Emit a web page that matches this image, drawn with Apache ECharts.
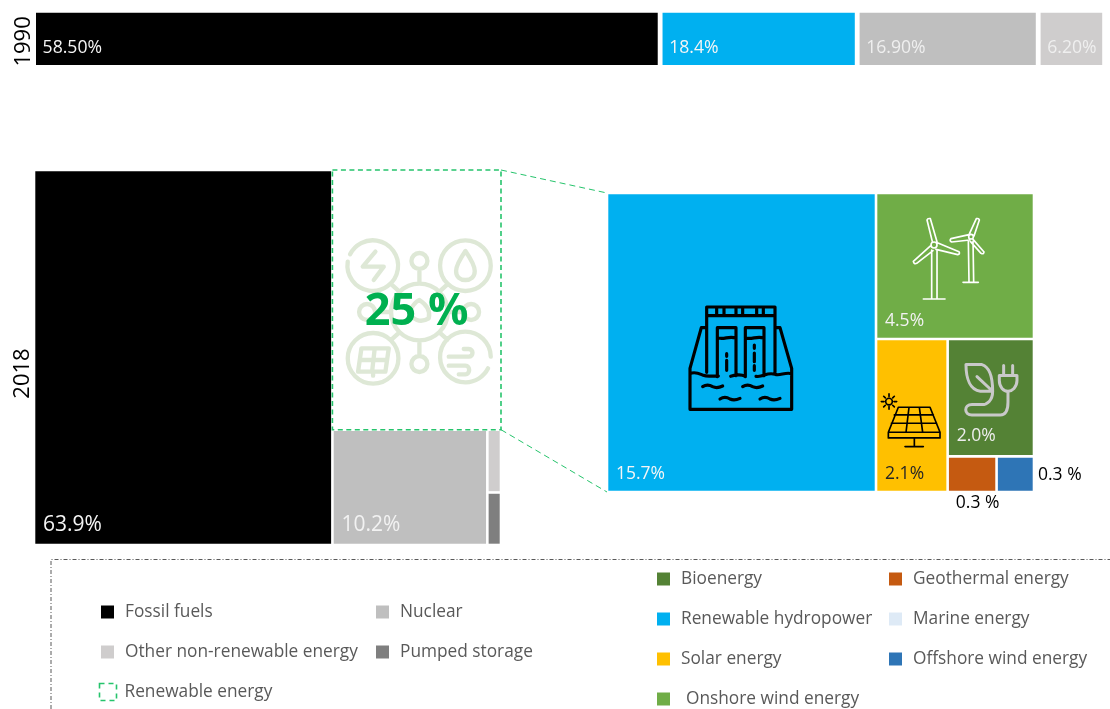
<!DOCTYPE html>
<html><head><meta charset="utf-8">
<style>html,body{margin:0;padding:0;background:#fff}#c{width:1110px;height:709px}</style>
<script src="https://cdn.jsdelivr.net/npm/echarts@6/dist/echarts.min.js"></script>
</head><body><div id="c"></div>
<script>
const years = ['1990', '2018'];
const names1990 = ['Fossil fuels', 'Renewable hydropower', 'Nuclear', 'Other non-renewable energy'];
const values1990 = [58.5, 18.4, 16.9, 6.2];
const labels1990 = ['58.50%', '18.4%', '16.90%', '6.20%'];

const names2018 = ['Fossil fuels', 'Renewable energy', 'Nuclear', 'Other non-renewable energy', 'Pumped storage'];
const values2018 = [63.9, 25, 10.2, 0.49, 0.41];
const labels2018 = ['63.9%', '25 %', '10.2%', '', ''];

const namesRenewable = ['Renewable hydropower', 'Onshore wind energy', 'Solar energy', 'Bioenergy', 'Geothermal energy', 'Offshore wind energy'];
const valuesRenewable = [15.7, 4.5, 2.14, 1.98, 0.34, 0.26];
const labelsRenewable = ['15.7%', '4.5%', '2.1%', '2.0%', '0.3 %', '0.3 %'];

const legendCol1 = ['Fossil fuels', 'Other non-renewable energy'];
const legendCol2 = ['Nuclear', 'Pumped storage'];
const legendCol3 = ['Bioenergy', 'Renewable hydropower', 'Solar energy'];
const legendCol4 = ['Geothermal energy', 'Marine energy', 'Offshore wind energy'];

const colors = {
  'Fossil fuels': '#000000', 'Renewable hydropower': '#00B0F0', 'Nuclear': '#BFBFBF',
  'Other non-renewable energy': '#CFCDCD', 'Pumped storage': '#7F7F7F', 'Renewable energy': '#FFFFFF',
  'Onshore wind energy': '#70AD47', 'Solar energy': '#FFC000', 'Bioenergy': '#548235',
  'Geothermal energy': '#C55A11', 'Offshore wind energy': '#2E75B6', 'Marine energy': '#DEEAF6'
};
const GREEN = '#26C46C';
const FONT = '"Open Sans", sans-serif';

// ---- slice-and-dice layout, in axis units, derived from the values only ----
function sum(a) { return a.reduce((s, v) => s + v, 0); }
function layoutMain() {
  const [f, r, n, o, p] = values2018;
  const rest = r + n + o + p, H = 100 * r / rest, nx = f + (100 - f) * n / (n + o + p), oy = H + (100 - H) * o / (o + p);
  return [[0, 0, f, 100], [f, 0, 100, H], [f, H, nx, 100], [nx, H, 100, oy], [nx, oy, 100, 100]];
}
function layoutRenewable() {
  const [h, w, s, b, g, off] = valuesRenewable;
  const T = sum(valuesRenewable), rest = T - h, wy = w / rest, sx = h + rest * s / (s + b + g + off);
  const by = wy + (1 - wy) * b / (b + g + off), gx = sx + (T - sx) * g / (g + off);
  return [[0, 0, h, 1], [h, 0, T, wy], [h, wy, sx, 1], [sx, wy, T, by], [sx, by, gx, 1], [gx, by, T, 1]];
}

// ---- pictograms, in 3x local units ----
function circle(cx, cy, r) { return `M${cx - r} ${cy}a${r} ${r} 0 1 0 ${2 * r} 0a${r} ${r} 0 1 0 ${-2 * r} 0Z`; }
const damPath = 'M320 366H525V392H320ZM350 366V392M372 366V392M408 366V392M428 366V392M470 366V392M490 366V392' +
  'M320 392V562M525 392V562M316 428H304L270 550V673H575V550L540 428H527' +
  'M270 566C285 558 298 566 310 571C325 577 340 571 355 573M392 574C405 570 420 566 436 574M468 574C490 578 500 560 525 568C540 574 555 560 575 566' +
  'M352 575V428H408V572M436 575V428H492V572M352 458C370 466 390 450 408 460M436 458C452 466 475 450 492 460' +
  'M380 506V514M380 526V556M463 480V490M463 504V530M463 542V556' +
  'M308 605C320 597 330 600 338 605C348 610 358 608 368 603M428 605C440 597 450 600 458 605C468 610 478 608 488 603' +
  'M360 642C372 634 382 637 390 642C400 647 410 645 420 640M480 642C492 634 502 637 510 642C520 647 530 645 540 640';
const windPath = circle(195, 183, 9) + 'M188 198V345M204 198V345M163 345H228' +
  'M190 173L174 108Q176 102 184 104L204 173M205 176L270 203Q274 210 266 212L201 196M186 184L133 232Q135 242 143 238L192 200' +
  circle(306, 158, 7) + 'M298 172L300 295M312 172L314 295M282 295H328' +
  'M300 152L322 104Q330 102 331 108L315 156M300 152L246 164Q240 170 248 174L302 168M312 166L345 204Q344 212 336 208L304 172';
const solarPath = 'M85 220H180L210 295H55ZM55 295V312H210V295M73 243H190M64 268H200M117 220L108 295M148 220L158 295M133 312V338M105 338H160' +
  circle(57, 203, 10) + 'M57 180V188M57 218V226M34 203H42M72 203H80M41 187L46 192M68 214L73 219M73 187L68 192M46 214L41 219';
const bioPath = 'M292 92H340C365 100 372 135 372 172H335C305 168 292 135 292 92ZM325 128L372 172' +
  'M372 172C372 200 355 212 340 212H310C285 212 285 243 310 243H395C415 243 418 225 418 205V172' +
  'M392 125H445V140C445 160 430 172 418 172C405 172 392 160 392 140ZM405 95V125M432 95V125';
const renewPath = 'M67 290A76 76 0 1 0 74 268' + circle(420, 302, 76) + circle(143, 580, 76) + 'M496 575A76 76 0 1 0 488 610' +
  circle(282, 441, 85) + circle(282, 288, 24) + circle(282, 597, 24) + circle(125, 441, 24) + circle(437, 441, 24) +
  'M282 312V356M282 526V573M149 441H197M367 441H413M198 358L222 380M366 358L342 380M198 524L222 502M366 524L342 502' +
  'M150 260L112 305H175L145 345M420 258C405 280 392 300 392 318C392 336 405 345 420 345C435 345 448 336 448 318C448 300 435 280 420 258Z' +
  'M108 550H190L180 620H98ZM103 585H185M148 550L140 620M143 620V632' +
  'M282 405C305 420 315 440 310 460C285 475 260 465 252 440C262 420 270 410 282 405Z' +
  'M370 575H430C445 575 445 552 430 552H415M370 602H420C435 602 435 628 420 628H400';

const icons = {
  'Renewable hydropower': { d: damPath, stroke: '#000', w: 9.5, ox: -7, oy: -8 },
  'Onshore wind energy': { d: windPath, stroke: '#fff', w: 5, ox: -7, oy: -9 },
  'Solar energy': { d: solarPath, stroke: '#000', w: 5, ox: -6, oy: -5 },
  'Bioenergy': { d: bioPath, stroke: '#C9C9C9', w: 9, ox: -79, oy: -5 },
  'Renewable energy': { d: renewPath, stroke: '#DEE8D6', w: 13, ox: -7, oy: -5 }
};
const labelStyles = {
  'Fossil fuels': { size: 21, fill: '#F5F5F5', dy: -20 },
  'Nuclear': { size: 21, fill: '#F2F2F2', dy: -20 },
  'Renewable hydropower': { size: 17.5, fill: '#F5F5F5', dy: -18 },
  'Onshore wind energy': { size: 17.5, fill: '#F2F2F2', dy: -18 },
  'Solar energy': { size: 17.5, fill: '#262626', dy: -18 },
  'Bioenergy': { size: 17.5, fill: '#EDEDED', dy: -20 },
  'Geothermal energy': { size: 17.5, fill: '#000', outside: 'below' },
  'Offshore wind energy': { size: 17.5, fill: '#000', outside: 'right' },
  'Renewable energy': { size: 45, fill: '#00B050', bold: true, center: true }
};

function makeRender(name, label) {
  return function (params, api) {
    const a = api.coord([api.value(0), api.value(1)]), b = api.coord([api.value(2), api.value(3)]);
    const x = a[0], y = a[1], w = b[0] - a[0], h = b[1] - a[1], inset = 1.3;
    const kids = [];
    if (name === 'Renewable energy') {
      kids.push({ type: 'rect', shape: { x: x, y: y, width: w, height: h }, style: { fill: 'none', stroke: GREEN, lineWidth: 1.6, lineDash: [5, 3.5] } });
    } else {
      kids.push({ type: 'rect', shape: { x: x + inset, y: y + inset, width: w - 2 * inset, height: h - 2 * inset }, style: { fill: colors[name] } });
    }
    const ic = icons[name];
    if (ic) kids.push({
      type: 'path', x: x + ic.ox, y: y + ic.oy, scaleX: 1 / 3, scaleY: 1 / 3, shape: { pathData: ic.d },
      style: { fill: 'none', stroke: ic.stroke, lineWidth: ic.w, lineCap: 'round', lineJoin: 'round' }
    });
    const st = labelStyles[name];
    if (label && st) {
      const t = { text: label, fill: st.fill, fontFamily: FONT, fontSize: st.size, fontWeight: st.bold ? 'bold' : 'normal', verticalAlign: 'middle', align: 'left' };
      if (st.center) { t.x = x + w / 2; t.y = y + h / 2 + 12; t.align = 'center'; }
      else if (st.outside === 'below') { t.x = x + w / 2 + 5.5; t.y = y + h + 11; t.align = 'center'; }
      else if (st.outside === 'right') { t.x = x + w + 4; t.y = y + h / 2 + 1; }
      else { t.x = x + 9; t.y = y + h + st.dy; }
      kids.push({ type: 'text', style: t });
    }
    return { type: 'group', children: kids };
  };
}
function cellSeries(name, cell, label, axis) {
  return {
    type: 'custom', name: name, xAxisIndex: axis, yAxisIndex: axis, silent: true, clip: false,
    itemStyle: { color: colors[name] }, encode: { x: [0, 2], y: [1, 3] },
    data: [cell], renderItem: makeRender(name, label)
  };
}

const series = [];
names1990.forEach((n, i) => series.push({
  type: 'bar', name: n, stack: 'y1990', xAxisIndex: 0, yAxisIndex: 0, barWidth: '100%', silent: true,
  data: [values1990[i]], itemStyle: { color: colors[n], borderColor: '#fff', borderWidth: 2.4 },
  label: { show: true, formatter: labels1990[i], position: [9, 38], align: 'left', verticalAlign: 'middle', color: i < 2 ? '#F5F5F5' : '#EFEFEF', fontFamily: FONT, fontSize: 17.6 }
}));
layoutMain().forEach((c, i) => series.push(cellSeries(names2018[i], c, labels2018[i], 1)));
layoutRenewable().forEach((c, i) => series.push(cellSeries(namesRenewable[i], c, labelsRenewable[i], 2)));
series.push({ type: 'custom', name: 'Marine energy', xAxisIndex: 2, yAxisIndex: 2, itemStyle: { color: colors['Marine energy'] }, data: [], renderItem: () => null });

const hiddenX = (min, max, gridIndex) => ({ type: 'value', min, max, gridIndex, show: false });
function yearAxis(year, padRight, gap, extra) {
  return Object.assign({
    name: year, nameLocation: 'middle', nameRotate: 90, nameGap: gap,
    nameTextStyle: { color: '#000', fontFamily: FONT, fontSize: 22, padding: [0, padRight, 0, 0] },
    axisLine: { show: false }, axisTick: { show: false }, axisLabel: { show: false }, splitLine: { show: false }
  }, extra);
}
const legendText = { color: '#595959', fontFamily: FONT, fontSize: 17.3, lineHeight: 22, padding: [2, 0, 0, 6] };
function legend(names, left, top, extra) {
  return Object.assign({
    orient: 'vertical', left, top, itemWidth: 13, itemHeight: 13, itemGap: 16, selectedMode: false,
    icon: 'rect', padding: 0, textStyle: legendText,
    data: names.map(n => ({ name: n, itemStyle: { color: colors[n], borderWidth: 0 } }))
  }, extra);
}

const total = sum(valuesRenewable);
const chart = echarts.init(document.getElementById('c'), null, { renderer: 'canvas' });
chart.setOption({
  animation: false,
  backgroundColor: '#fff',
  grid: [
    { left: 33.6, top: 10.4, width: 1071, height: 57 },
    { left: 34, top: 170, width: 467, height: 375 },
    { left: 607, top: 193, width: 427, height: 299 }
  ],
  xAxis: [hiddenX(0, 100, 0), hiddenX(0, 100, 1), hiddenX(0, total, 2)],
  yAxis: [
    yearAxis(years[0], 5, -1, { type: 'category', data: [years[0]], gridIndex: 0 }),
    yearAxis(years[1], 32, 0, { type: 'value', min: 0, max: 100, inverse: true, gridIndex: 1 }),
    { type: 'value', min: 0, max: 1, inverse: true, gridIndex: 2, show: false }
  ],
  legend: [
    legend(legendCol1, 101, 600),
    legend(legendCol2, 376, 600),
    legend(legendCol3, 657, 567),
    legend(['Onshore wind energy'], 657, 687, {
      textStyle: Object.assign({}, legendText, { padding: [2, 0, 0, 11] }), bottom: 0
    }),
    legend(legendCol4, 889, 567),
    legend(['Renewable energy'], 97, 680, {
      itemWidth: 17, itemHeight: 17,
      textStyle: Object.assign({}, legendText, { padding: [2, 0, 0, 3] }),
      data: [{ name: 'Renewable energy', itemStyle: { color: 'none', borderColor: GREEN, borderWidth: 1.6, borderType: [5, 4] } }]
    })
  ],
  series
});

// connector lines from the renewable cell to the breakdown, and the legend frame
const main = layoutMain()[1], hydro = layoutRenewable()[0];
const px = (g, p) => chart.convertToPixel({ xAxisIndex: g, yAxisIndex: g }, p);
const a1 = px(1, [main[2], main[1]]), a2 = px(1, [main[2], main[3]]);
const b1 = px(2, [hydro[0], hydro[1]]), b2 = px(2, [hydro[0], hydro[3]]);
const conn = (p, q) => ({ type: 'line', silent: true, shape: { x1: p[0], y1: p[1], x2: q[0], y2: q[1] }, style: { stroke: GREEN, lineWidth: 1, lineDash: [6, 4] } });
chart.setOption({
  graphic: [
    conn(a1, b1), conn(a2, b2),
    { type: 'polyline', silent: true, shape: { points: [[51, 709], [51, 559.5], [1110, 559.5]] }, style: { fill: 'none', stroke: '#595959', lineWidth: 1, lineDash: [4, 2, 1, 2] } }
  ]
});
</script></body></html>
